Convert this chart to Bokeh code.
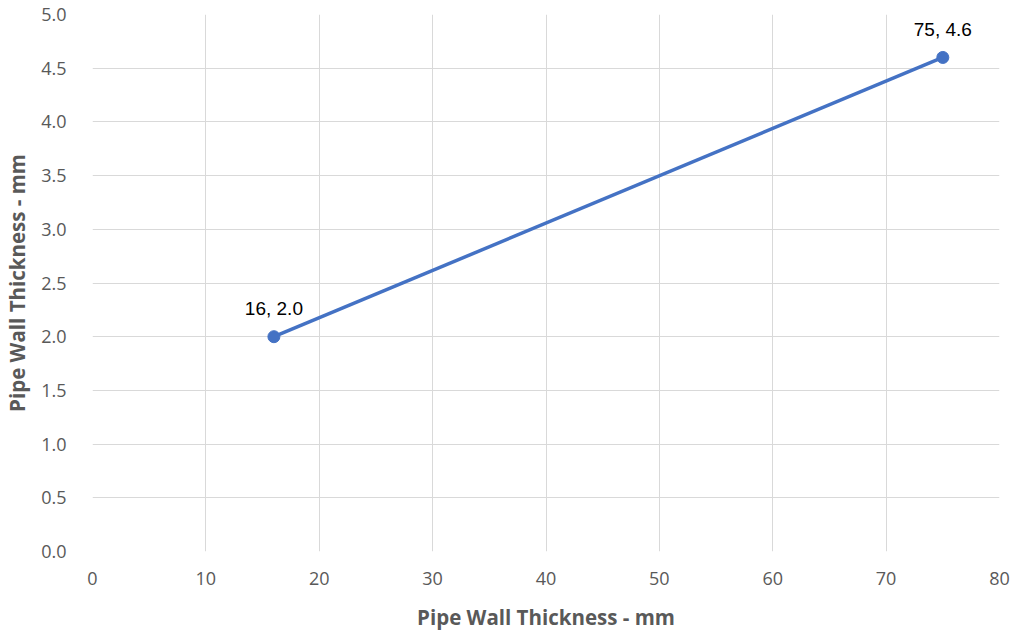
from bokeh.plotting import figure
from bokeh.models import FixedTicker, PrintfTickFormatter, Range1d, ColumnDataSource
from bokeh.core.properties import value
from bokeh.embed import file_html
from bokeh.resources import INLINE

# Data
x_vals = [16, 75]
y_vals = [2.0, 4.6]
point_labels = ["16, 2.0", "75, 4.6"]
x_ticks = [0, 10, 20, 30, 40, 50, 60, 70, 80]
y_ticks = [0.0, 0.5, 1.0, 1.5, 2.0, 2.5, 3.0, 3.5, 4.0, 4.5, 5.0]
x_title = "Pipe Wall Thickness - mm"
y_title = "Pipe Wall Thickness - mm"

src = ColumnDataSource(dict(x=x_vals, y=y_vals, label=point_labels))

p = figure(frame_width=907, frame_height=537, output_backend="svg", toolbar_location=None,
           x_range=Range1d(0, 80), y_range=Range1d(0, 5),
           min_border_left=83, min_border_top=14, min_border_right=13, min_border_bottom=70)
p.outline_line_color = None
p.background_fill_color = "white"
p.border_fill_color = "white"

for ax in (p.xaxis, p.yaxis):
    ax.axis_line_color = None
    ax.major_tick_line_color = None
    ax.minor_tick_line_color = None
    ax.major_label_text_font = "Open Sans"
    ax.major_label_text_font_size = "18px"
    ax.major_label_text_color = "#595959"
    ax.axis_label_text_font = "Open Sans"
    ax.axis_label_text_font_style = "bold"
    ax.axis_label_text_font_size = "20.5px"
    ax.axis_label_text_color = "#595959"

p.xaxis.ticker = FixedTicker(ticks=x_ticks)
p.yaxis.ticker = FixedTicker(ticks=y_ticks)
p.yaxis.formatter = PrintfTickFormatter(format="%.1f")
p.xaxis.axis_label = x_title
p.yaxis.axis_label = y_title
p.xaxis.major_label_standoff = 14
p.yaxis.major_label_standoff = 20
p.xaxis.axis_label_standoff = 15
p.yaxis.axis_label_standoff = 7

p.xgrid.grid_line_color = "#d9d9d9"
p.ygrid.grid_line_color = "#d9d9d9"
p.xgrid.grid_line_width = 1
p.ygrid.grid_line_width = 1

p.line("x", "y", source=src, line_color="#4472C4", line_width=3.5)
p.scatter("x", "y", source=src, size=12, fill_color="#4472C4", line_color="#4472C4")
p.text("x", "y", text="label", source=src, text_align="center", text_baseline="alphabetic",
       y_offset=-28, text_font=value("Liberation Sans"), text_font_size="19px", text_color="#000000")

open("out.html", "w").write(file_html(p, INLINE))
